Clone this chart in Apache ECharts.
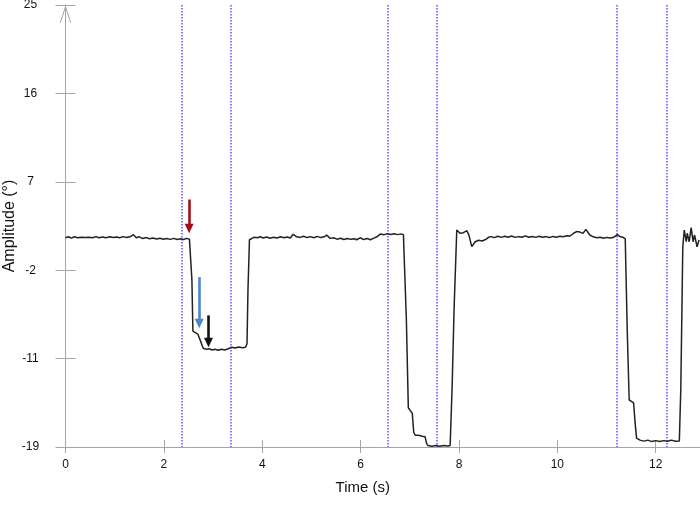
<!DOCTYPE html>
<html>
<head>
<meta charset="utf-8">
<script src="https://cdn.jsdelivr.net/npm/echarts@6/dist/echarts.min.js"></script>
<style>
html,body{margin:0;padding:0;background:#fff;}
#chart{width:700px;height:514px;}
</style>
</head>
<body>
<div id="chart"></div>
<script>
// ---- data ----
const time = [
0.00,0.06,0.12,0.18,0.25,0.32,0.40,0.48,0.55,0.62,0.68,0.75,0.82,0.90,0.97,1.04,1.10,1.17,1.24,1.31,
1.38,1.44,1.50,1.57,1.64,1.71,1.78,1.85,1.92,1.99,2.06,2.13,2.20,2.27,2.34,2.40,2.46,2.52,2.55,2.57,
2.59,2.64,2.69,2.73,2.76,2.80,2.86,2.92,2.98,3.04,3.10,3.17,3.24,3.31,3.38,3.45,3.52,3.60,3.66,3.69,
3.71,3.74,3.78,3.84,3.90,3.96,4.02,4.09,4.16,4.23,4.30,4.37,4.44,4.51,4.57,4.63,4.70,4.77,4.84,4.91,
4.98,5.05,5.12,5.19,5.26,5.31,5.38,5.45,5.52,5.59,5.66,5.73,5.80,5.87,5.92,5.99,6.06,6.13,6.20,6.26,
6.33,6.40,6.47,6.54,6.61,6.68,6.75,6.82,6.87,6.89,6.93,6.97,7.01,7.05,7.08,7.11,7.18,7.25,7.31,7.34,
7.37,7.45,7.53,7.61,7.69,7.77,7.82,7.86,7.90,7.955,8.02,8.09,8.16,8.20,8.23,8.26,8.33,8.40,8.47,8.54,
8.60,8.66,8.72,8.79,8.86,8.93,9.00,9.07,9.14,9.21,9.28,9.35,9.42,9.49,9.56,9.63,9.70,9.77,9.84,9.91,
9.98,10.05,10.12,10.19,10.26,10.33,10.39,10.46,10.52,10.58,10.66,10.73,10.80,10.87,10.94,11.01,11.08,11.15,11.22,11.27,
11.33,11.37,11.38,11.42,11.46,11.50,11.55,11.58,11.61,11.68,11.76,11.84,11.92,12.00,12.08,12.16,12.24,12.32,12.40,12.48,
12.51,12.55,12.58,12.62,12.64,12.68,12.72,12.76,12.79,12.84,12.88
];
const amplitude = [
1.30,1.40,1.26,1.40,1.30,1.36,1.32,1.36,1.30,1.42,1.30,1.38,1.30,1.40,1.32,1.38,1.30,1.42,1.32,1.40,
1.62,1.30,1.40,1.22,1.32,1.20,1.28,1.18,1.26,1.16,1.22,1.14,1.24,1.12,1.20,1.12,1.24,1.16,1.10,-3.0,
-8.2,-8.35,-8.5,-8.6,-9.4,-9.95,-10.05,-10.0,-10.12,-10.05,-10.15,-10.05,-10.12,-10.0,-9.85,-9.92,-9.82,-9.9,-9.85,-9.5,
-4.0,1.10,1.28,1.36,1.30,1.40,1.28,1.38,1.26,1.36,1.28,1.40,1.30,1.38,1.28,1.66,1.40,1.34,1.45,1.32,
1.42,1.30,1.44,1.32,1.40,1.58,1.24,1.30,1.16,1.26,1.12,1.22,1.14,1.20,1.10,1.30,1.12,1.22,1.10,1.24,
1.40,1.68,1.60,1.72,1.64,1.72,1.62,1.70,1.62,1.50,-7.0,-16.0,-16.3,-16.55,-18.5,-18.8,-18.8,-18.9,-18.95,-19.6,
-19.85,-19.92,-19.85,-19.93,-19.85,-19.9,-19.85,-14.0,-6.0,2.09,1.76,1.82,2.02,1.60,1.70,0.40,0.90,1.05,0.98,1.12,
1.35,1.42,1.32,1.45,1.34,1.46,1.36,1.48,1.34,1.42,1.36,1.50,1.36,1.44,1.34,1.46,1.35,1.42,1.32,1.44,
1.36,1.46,1.40,1.50,1.48,1.76,1.93,1.88,1.75,2.16,1.58,1.40,1.30,1.36,1.26,1.34,1.28,1.36,1.62,1.44,
1.36,1.40,1.20,-8.0,-15.2,-15.3,-15.5,-17.5,-19.1,-19.3,-19.4,-19.3,-19.45,-19.35,-19.45,-19.35,-19.42,-19.3,-19.42,-19.4,
-14.0,0.39,2.09,0.90,1.76,0.90,2.33,0.90,1.58,0.39,1.08
];
const xTickValues = [0, 2, 4, 6, 8, 10, 12];
const yTickValues = [-20, -11, -2, 7, 16, 25];
const yTickLabels = ['-19', '-11', '-2', '7', '16', '25'];
const markerTimes = [2.37, 3.36, 6.55, 7.55, 11.22, 12.23];
const arrowTimes = [2.514, 2.718, 2.907];
const arrowTops = [5.2, -2.7, -6.6];
const arrowTips = [1.76, -7.9, -9.85];
const arrowColors = ['#a3101a', '#4a86c8', '#111111'];

// ---- chart ----
const chart = echarts.init(document.getElementById('chart'), null, {renderer: 'canvas'});
const FONT = '"Liberation Sans", Arial, Helvetica, sans-serif';
const AXC = '#a6a6a6';
const MARKC = '#7272ff';
const X_MIN = 0, X_MAX = 12.9, Y_MIN = -20, Y_MAX = 25;
const pxPerY = 442 / 45;
const headH = 9.5;

const seriesData = time.map((t, i) => [t, amplitude[i]]);

const arrowLines = arrowTimes.map((t, i) => [
  {coord: [t, arrowTops[i]], symbol: 'none'},
  {coord: [t, arrowTips[i] + (headH / 2) / pxPerY], symbol: 'triangle', symbolSize: [9, headH]}
]);

const ylabelFmt = v => {
  const k = yTickValues.findIndex(a => Math.abs(a - v) < 1e-6);
  return k >= 0 ? yTickLabels[k] : '';
};

const series = [
  {
    type: 'custom', xAxisIndex: 0, yAxisIndex: 0, silent: true, clip: false, z: 2,
    data: markerTimes.map(t => [t, Y_MIN]),
    encode: {x: 0, y: 1},
    renderItem: function (params, api) {
      const t = api.value(0);
      const p = api.coord([t, Y_MIN]);
      const q = api.coord([t, Y_MAX]);
      const x = Math.round(p[0]);
      return {
        type: 'line',
        shape: {x1: x, y1: q[1], x2: x, y2: p[1]},
        style: {stroke: MARKC, lineWidth: 1.8, lineDash: [1.5, 1.5], fill: null}
      };
    }
  },
  {
    type: 'line', xAxisIndex: 0, yAxisIndex: 0,
    data: seriesData, showSymbol: false, symbol: 'none',
    lineStyle: {color: '#222', width: 1.5},
    itemStyle: {color: '#222'},
    silent: true,
    z: 3
  }
];
arrowLines.forEach((ln, i) => {
  series.push({
    type: 'line', xAxisIndex: 0, yAxisIndex: 0, data: [], silent: true,
    color: arrowColors[i],
    markLine: {
      silent: true, animation: false,
      label: {show: false}, emphasis: {disabled: true},
      lineStyle: {color: arrowColors[i], type: 'solid', width: 2.6},
      itemStyle: {color: arrowColors[i]},
      data: [ln]
    },
    z: 4
  });
});

const option = {
  animation: false,
  backgroundColor: '#ffffff',
  grid: {left: 65.5, right: 0, top: 5, bottom: 67, containLabel: false, outerBoundsMode: 'none'},
  xAxis: [
    {
      type: 'value', min: X_MIN, max: X_MAX, position: 'bottom',
      name: 'Time (s)', nameLocation: 'middle', nameGap: 33, nameMoveOverlap: false,
      nameTextStyle: {fontFamily: FONT, fontSize: 15, color: '#111', padding: [0, 40, 0, 0]},
      axisLine: {show: true, onZero: false, lineStyle: {color: AXC, width: 1}},
      axisTick: {show: true, inside: false, length: 6, customValues: xTickValues, lineStyle: {color: AXC}},
      axisLabel: {show: true, customValues: xTickValues, margin: 12, fontFamily: FONT, fontSize: 12, color: '#111'},
      splitLine: {show: false}
    },
    {
      type: 'value', min: X_MIN, max: X_MAX, position: 'bottom',
      axisLine: {show: false, onZero: false},
      axisTick: {show: true, inside: true, length: 7, customValues: xTickValues, lineStyle: {color: AXC}},
      axisLabel: {show: false},
      splitLine: {show: false}
    }
  ],
  yAxis: [
    {
      type: 'value', min: Y_MIN, max: Y_MAX, position: 'left',
      name: 'Amplitude (°)', nameLocation: 'middle', nameGap: 48, nameRotate: 90, nameMoveOverlap: false,
      nameTextStyle: {fontFamily: FONT, fontSize: 16, color: '#111'},
      axisLine: {show: true, onZero: false, lineStyle: {color: AXC, width: 1},
        symbol: ['none', 'path://M0,31 L10,0 L20,31 L18.2,31 L10,5.5 L1.8,31 Z'],
        symbolSize: [11.4, 17.7], symbolOffset: [0, -8.85]},
      axisTick: {show: true, inside: false, length: 10, customValues: yTickValues, lineStyle: {color: AXC}},
      axisLabel: {show: true, customValues: yTickValues, formatter: ylabelFmt, align: 'center', margin: 35,
        fontFamily: FONT, fontSize: 12, color: '#111'},
      splitLine: {show: false}
    },
    {
      type: 'value', min: Y_MIN, max: Y_MAX, position: 'left',
      axisLine: {show: false, onZero: false},
      axisTick: {show: true, inside: true, length: 10, customValues: yTickValues, lineStyle: {color: AXC}},
      axisLabel: {show: false},
      splitLine: {show: false}
    }
  ],
  series: series
};
chart.setOption(option);
</script>
</body>
</html>
